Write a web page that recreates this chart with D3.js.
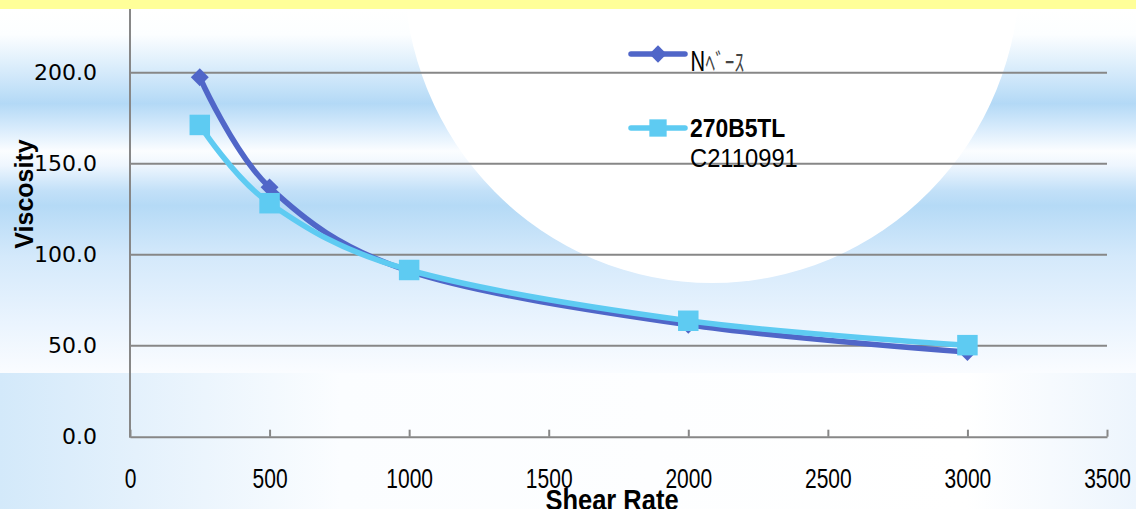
<!DOCTYPE html>
<html>
<head>
<meta charset="utf-8">
<script src="https://cdn.jsdelivr.net/npm/d3@7"></script>
<style>
  html, body { margin: 0; padding: 0; background: #ffffff; }
  svg { display: block; }
</style>
</head>
<body>
<svg id="chart" width="1136" height="509"></svg>
<script>
// ---- data ----
const shearRates = [250, 500, 1000, 2000, 3000];
const seriesNBase = [197.5, 137, 91, 61.5, 46.5];
const series270B5TL = [171.3, 128.3, 91.6, 63.7, 50.3];
const seriesNames = ["N\uFF8D\uFF9E\uFF70\uFF7D", "270B5TL", "C2110991"];
const xTicks = [0, 500, 1000, 1500, 2000, 2500, 3000, 3500];
const yTicks = [0, 50, 100, 150, 200];
const xTitle = "Shear Rate";
const yTitle = "Viscosity";

const W = 1136, H = 509;
const svg = d3.select("#chart");
const defs = svg.append("defs");

// ---- background ----
const gUp = defs.append("linearGradient").attr("id", "gUp")
  .attr("x1", 0).attr("y1", 0).attr("x2", 0).attr("y2", 1);
[[0, "#ffffff"], [0.07, "#fcfeff"], [0.19, "#cfe7fa"], [0.26, "#b3d9f6"],
 [0.33, "#d9ecfc"], [0.39, "#fbfdff"], [0.43, "#eef6fe"], [0.5, "#c2e0f8"],
 [0.54, "#b5daf6"], [0.68, "#d4e9fb"], [0.86, "#eaf4fe"], [1, "#fafcff"]]
 .forEach(([o, c]) => gUp.append("stop").attr("offset", o).attr("stop-color", c));

const gLow = defs.append("linearGradient").attr("id", "gLow")
  .attr("x1", 0).attr("y1", 0).attr("x2", 1).attr("y2", 0);
[[0, "#d3e9fa"], [0.12, "#e4f1fc"], [0.3, "#fbfdff"], [0.85, "#ffffff"], [1, "#edf5fd"]]
 .forEach(([o, c]) => gLow.append("stop").attr("offset", o).attr("stop-color", c));

svg.append("rect").attr("x", 0).attr("y", 9).attr("width", W).attr("height", 364).attr("fill", "url(#gUp)");
svg.append("rect").attr("x", 0).attr("y", 373).attr("width", W).attr("height", H - 373).attr("fill", "url(#gLow)");
svg.append("ellipse").attr("cx", 712).attr("cy", -30).attr("rx", 308).attr("ry", 313).attr("fill", "#ffffff");
svg.append("rect").attr("x", 0).attr("y", 0).attr("width", W).attr("height", 9).attr("fill", "#ffff99");

// ---- scales ----
const x = d3.scaleLinear().domain([0, 3500]).range([130, 1107]);
const y = d3.scaleLinear().domain([0, 200]).range([436.7, 72.7]);

const gridColor = "#878787";

// gridlines
svg.append("g").selectAll("line").data(yTicks.filter(d => d > 0)).join("line")
  .attr("x1", x(0)).attr("x2", x(3500))
  .attr("y1", d => y(d)).attr("y2", d => y(d))
  .attr("stroke", gridColor).attr("stroke-width", 2);

// y axis
const yAxis = svg.append("g").attr("transform", `translate(${x(0)},0)`)
  .call(d3.axisLeft(y).tickValues(yTicks).tickSize(0).tickPadding(33).tickFormat(d3.format(".1f")));
yAxis.select(".domain").remove();
yAxis.selectAll("text").attr("font-family", "DejaVu Sans").attr("font-size", 22)
  .attr("fill", "#000").attr("dy", "0.3em");
svg.append("line").attr("x1", x(0)).attr("x2", x(0)).attr("y1", 9).attr("y2", y(0) + 1)
  .attr("stroke", gridColor).attr("stroke-width", 2);

// x axis
const xAxis = svg.append("g").attr("transform", `translate(0,${y(0)})`)
  .call(d3.axisBottom(x).tickValues(xTicks).tickSizeInner(-7).tickSizeOuter(0).tickPadding(0).tickFormat(d3.format("d")));
xAxis.select(".domain").attr("stroke", gridColor).attr("stroke-width", 2);
xAxis.selectAll(".tick line").attr("stroke", gridColor).attr("stroke-width", 2);
xAxis.selectAll("text").attr("font-family", "Liberation Sans").attr("font-size", 28)
  .attr("fill", "#000").attr("y", null).attr("dy", null)
  .attr("transform", "translate(0,51) scale(0.75,1)");

// axis titles
svg.append("text").attr("x", 612).attr("y", 510).attr("text-anchor", "middle")
  .attr("font-family", "Liberation Sans").attr("font-weight", "bold").attr("font-size", 30)
  .attr("transform", "translate(612,0) scale(0.85,1) translate(-612,0)")
  .attr("fill", "#000").text(xTitle);
svg.append("text").attr("transform", "translate(33,194) rotate(-90)")
  .attr("text-anchor", "middle").attr("font-family", "Liberation Sans")
  .attr("font-weight", "bold").attr("font-size", 25).attr("fill", "#000").text(yTitle);

// ---- series ----
const darkCol = "#5066c8", lightCol = "#5ecbf2";
const line = d3.line().x(d => x(d[0])).y(d => y(d[1])).curve(d3.curveCardinal);
const dataN = shearRates.map((s, i) => [s, seriesNBase[i]]);
const data2 = shearRates.map((s, i) => [s, series270B5TL[i]]);

svg.append("path").datum(dataN).attr("d", line).attr("fill", "none")
  .attr("stroke", darkCol).attr("stroke-width", 5.5).attr("stroke-linecap", "round");
svg.append("g").selectAll("path").data(dataN).join("path")
  .attr("d", d3.symbol(d3.symbolSquare, 160))
  .attr("transform", d => `translate(${x(d[0])},${y(d[1])}) rotate(45)`)
  .attr("fill", darkCol);

svg.append("path").datum(data2).attr("d", line).attr("fill", "none")
  .attr("stroke", lightCol).attr("stroke-width", 5.5).attr("stroke-linecap", "round");
svg.append("g").selectAll("path").data(data2).join("path")
  .attr("d", d3.symbol(d3.symbolSquare, 420))
  .attr("transform", d => `translate(${x(d[0])},${y(d[1])})`)
  .attr("fill", lightCol);

// ---- legend ----
const lg = svg.append("g");
lg.append("line").attr("x1", 631).attr("x2", 685).attr("y1", 54).attr("y2", 54)
  .attr("stroke", darkCol).attr("stroke-width", 5.5).attr("stroke-linecap", "round");
lg.append("path").attr("d", d3.symbol(d3.symbolSquare, 150))
  .attr("transform", "translate(658,54) rotate(45)").attr("fill", darkCol);
const t1 = lg.append("text").attr("x", 0).attr("y", 0)
  .attr("transform", "translate(690,71) scale(0.8,1)")
  .attr("font-family", "Noto Sans CJK JP").attr("font-size", 27).attr("fill", "#000");
t1.append("tspan").text(seriesNames[0].slice(0, 1));
t1.append("tspan").attr("font-size", 24).attr("fill", "#444").text(seriesNames[0].slice(1));

lg.append("line").attr("x1", 631).attr("x2", 685).attr("y1", 128).attr("y2", 128)
  .attr("stroke", lightCol).attr("stroke-width", 5.5).attr("stroke-linecap", "round");
lg.append("path").attr("d", d3.symbol(d3.symbolSquare, 300))
  .attr("transform", "translate(658,128)").attr("fill", lightCol);
lg.append("text").attr("transform", "translate(690,137) scale(0.88,1)")
  .attr("font-family", "Liberation Sans").attr("font-weight", "bold").attr("font-size", 26)
  .attr("fill", "#000").text(seriesNames[1]);
lg.append("text").attr("transform", "translate(690,167) scale(0.95,1)")
  .attr("font-family", "Liberation Sans").attr("font-size", 25)
  .attr("fill", "#000").text(seriesNames[2]);
</script>
</body>
</html>
